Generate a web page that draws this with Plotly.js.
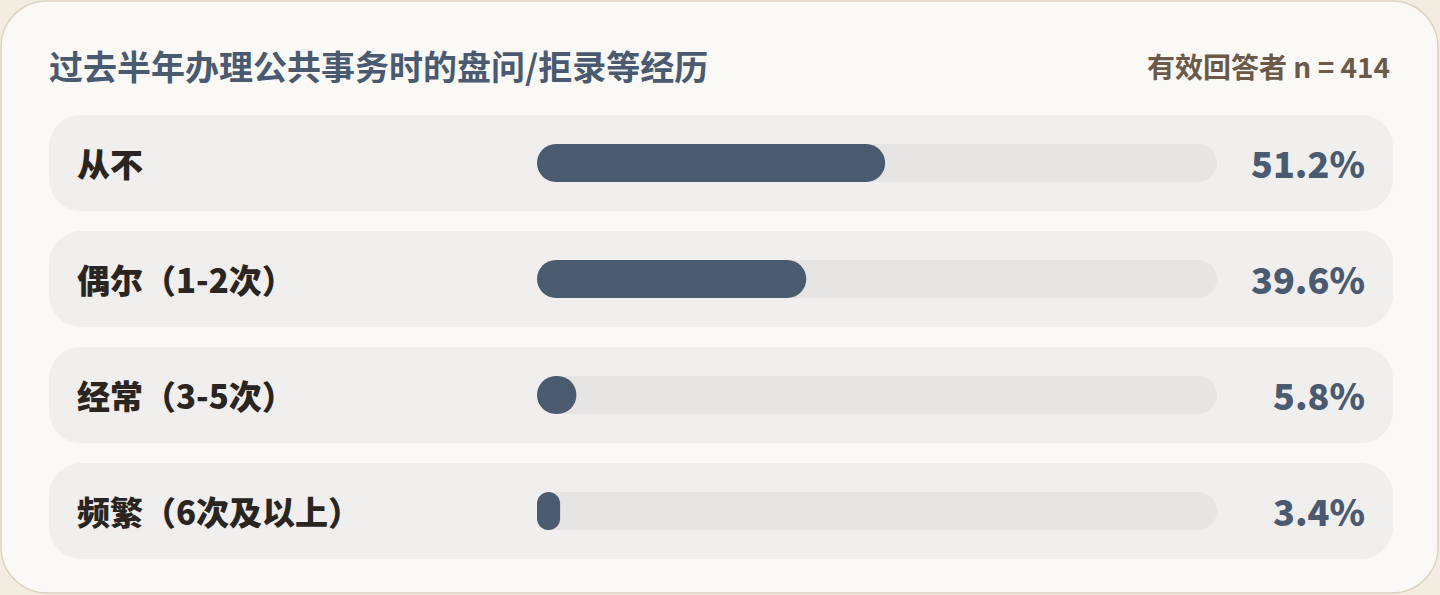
<!DOCTYPE html>
<html>
<head>
<meta charset="utf-8">
<script src="https://cdn.plot.ly/plotly-3.0.1.min.js"></script>
<style>
  html, body { margin: 0; padding: 0; background: #F3ECE0; }
  #chart { width: 1440px; height: 595px; }
</style>
</head>
<body>
<div id="chart"></div>
<script>
// chart data
var chartTitle = '过去半年办理公共事务时的盘问/拒录等经历';
var sampleNote = '有效回答者 n = 414';
var categories = ['从不', '偶尔（1-2次）', '经常（3-5次）', '频繁（6次及以上）'];
var shares = [51.2, 39.6, 5.8, 3.4];

var FONT = '"Noto Sans CJK SC", "Noto Sans", sans-serif';
var SLATE = '#4A5A70';

// pixel layout of the card -> axis units
var W = 1440, H = 595;
var trackLeft = 537, trackRight = 1217;        // 0% .. 100%
var rowTop = 163, rowStep = 116;               // centre of row 0, spacing
var sx = (trackRight - trackLeft) / 100;       // px per percent
var sy = rowStep;                              // px per row
var X = function (px) { return (px - trackLeft) / sx; };
var Y = function (py) { return (py - rowTop) / sy; };

var K = 0.5523;
// rounded rectangle in data units, r given in pixels
function roundRect(x0, y0, x1, y1, rPx) {
    var wPx = (x1 - x0) * sx, hPx = (y1 - y0) * sy;
    var r = Math.min(rPx, wPx / 2, hPx / 2);
    var rx = r / sx, ry = r / sy;
    var p = [
        'M', x0 + rx, y0,
        'L', x1 - rx, y0,
        'C', x1 - rx + K * rx, y0, x1, y0 + ry - K * ry, x1, y0 + ry,
        'L', x1, y1 - ry,
        'C', x1, y1 - ry + K * ry, x1 - rx + K * rx, y1, x1 - rx, y1,
        'L', x0 + rx, y1,
        'C', x0 + rx - K * rx, y1, x0, y1 - ry + K * ry, x0, y1 - ry,
        'L', x0, y0 + ry,
        'C', x0, y0 + ry - K * ry, x0 + rx - K * rx, y0, x0 + rx, y0,
        'Z'
    ];
    return p.join(' ');
}

var shapes = [];
var annotations = [];

// card
shapes.push({
    type: 'path', xref: 'x', yref: 'y', layer: 'below',
    path: roundRect(X(1), Y(1), X(1438), Y(593), 46),
    fillcolor: '#FAF9F6', line: {color: '#DDD1C0', width: 1.5}
});

var barH = 38 / sy, rowH = 96 / sy;

for (var i = 0; i < categories.length; i++) {
    // row background
    shapes.push({
        type: 'path', xref: 'x', yref: 'y', layer: 'below',
        path: roundRect(X(49), i - rowH / 2, X(1393), i + rowH / 2, 32),
        fillcolor: '#F0EFEE', line: {width: 0}
    });
    // track 0..100%
    shapes.push({
        type: 'path', xref: 'x', yref: 'y', layer: 'below',
        path: roundRect(0, i - barH / 2, 100, i + barH / 2, 19),
        fillcolor: '#E6E5E3', line: {width: 0}
    });
    // value bar
    shapes.push({
        type: 'path', xref: 'x', yref: 'y', layer: 'above',
        path: roundRect(0, i - barH / 2, shares[i], i + barH / 2, 19),
        fillcolor: '#4A5A6F', line: {width: 0}
    });

    annotations.push({
        xref: 'x', yref: 'y', x: X(75), y: i,
        xanchor: 'left', yanchor: 'middle', showarrow: false,
        text: categories[i],
        font: {family: FONT, size: 33, color: '#2B2521', weight: 800}
    });
    annotations.push({
        xref: 'x', yref: 'y', x: X(1367), y: i - 1 / sy,
        xanchor: 'right', yanchor: 'middle', showarrow: false,
        text: shares[i].toFixed(1) + '%',
        font: {family: FONT, size: 36, color: SLATE, weight: 800}
    });
}

annotations.push({
    xref: 'x', yref: 'y', x: X(47), y: Y(65),
    xanchor: 'left', yanchor: 'middle', showarrow: false,
    text: chartTitle,
    font: {family: FONT, size: 34, color: SLATE, weight: 700}
});
annotations.push({
    xref: 'x', yref: 'y', x: X(1392), y: Y(66),
    xanchor: 'right', yanchor: 'middle', showarrow: false,
    text: sampleNote,
    font: {family: FONT, size: 28, color: '#6B5A49', weight: 700}
});

var layout = {
    width: W, height: H,
    margin: {l: 0, r: 0, t: 0, b: 0},
    paper_bgcolor: '#F3ECE0',
    plot_bgcolor: 'rgba(0,0,0,0)',
    showlegend: false,
    xaxis: {range: [X(0), X(W)], visible: false, fixedrange: true},
    yaxis: {range: [Y(H), Y(0)], visible: false, fixedrange: true},
    shapes: shapes,
    annotations: annotations
};

Plotly.newPlot('chart', [], layout, {displayModeBar: false, staticPlot: true});
</script>
</body>
</html>
